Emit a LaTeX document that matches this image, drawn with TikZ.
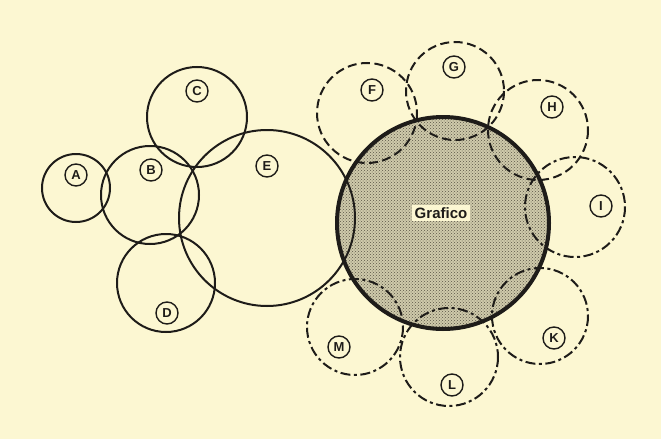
\documentclass[tikz,border=0pt]{standalone}
\usepackage{fontspec}
\setmainfont{Liberation Sans}
\usetikzlibrary{patterns}
\definecolor{paper}{RGB}{252,247,210}
\definecolor{ink}{RGB}{30,28,25}
\definecolor{stip}{RGB}{90,86,70}
\tikzset{
  ring/.style={draw=ink, line width=2pt},
  dashring/.style={draw=ink, line width=2pt, dash pattern=on 9pt off 4.5pt},
  dotring/.style={draw=ink, line width=2pt, dash pattern=on 10pt off 3.5pt on 3pt off 3.5pt},
  tag/.style={circle, draw=ink, line width=1.4pt, inner sep=0pt, minimum size=22pt, font=\bfseries\fontsize{13}{13}\selectfont, text=ink},
}
\begin{document}
\begin{tikzpicture}[x=1pt,y=-1pt]
\fill[paper] (0,0) rectangle (661,439);
\useasboundingbox (0,0) rectangle (661,439);
% Grafico fill
\fill[paper!72!stip] (443,223) circle (106);
\fill[pattern=crosshatch dots, pattern color=stip] (443,223) circle (106);
% left group
\draw[ring] (76,188) circle (34);
\draw[ring] (150,195) circle (49);
\draw[ring] (197,117) circle (50);
\draw[ring] (166,283) circle (49);
\draw[ring] (267,218) circle (88);
% satellites
\draw[dashring] (367,113) circle (50);
\draw[dashring] (455,91) circle (49);
\draw[dashring] (538,130) circle (50);
\draw[dotring] (575,207) circle (50);
\draw[dotring] (540,316) circle (48);
\draw[dotring] (449,357) circle (49);
\draw[dotring] (355,327) circle (48);
% Grafico outline
\draw[draw=ink, line width=4pt] (443,223) circle (106);
\node[fill=paper, inner sep=2.5pt, font=\bfseries\fontsize{15}{15}\selectfont, text=ink] (graf) at (441,213) {Grafico};
% labels
\node[tag] (A) at (76,175) {A};
\node[tag] (B) at (151,170) {B};
\node[tag] (C) at (197,91) {C};
\node[tag] (D) at (167,313) {D};
\node[tag] (E) at (267,166) {E};
\node[tag] (F) at (372,90) {F};
\node[tag] (G) at (454,67) {G};
\node[tag] (H) at (552,107) {H};
\node[tag] (I) at (601,206) {I};
\node[tag] (K) at (554,338) {K};
\node[tag] (L) at (452,385) {L};
\node[tag] (M) at (339,347) {M};
\end{tikzpicture}
\end{document}
